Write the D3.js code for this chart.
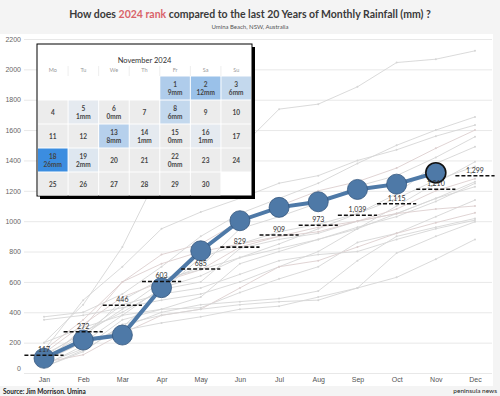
<!DOCTYPE html>
<html>
<head>
<meta charset="utf-8">
<script src="https://cdn.jsdelivr.net/npm/d3@7"></script>
<style>
  body { margin: 0; background: #f4f4f4; }
  svg { display: block; font-family: "Lato", "Open Sans", sans-serif; }
</style>
</head>
<body>
<div id="wrapper"></div>
<script>
// months and tick labels
const months = ["Jan", "Feb", "Mar", "Apr", "May", "Jun", "Jul", "Aug", "Sep", "Oct", "Nov", "Dec"];
const yTickValues = [0, 200, 400, 600, 800, 1000, 1200, 1400, 1600, 1800, 2000, 2200];

// cumulative rainfall 2024 (mm), Jan..Nov
const rain2024 = [97, 217, 250, 562, 805, 1003, 1091, 1128, 1209, 1244, 1319];
// average cumulative rainfall over the last 20 years
const avgRain = [117, 272, 446, 603, 685, 829, 909, 973, 1039, 1115, 1210, 1299];

// previous years, cumulative
const pastYears = [
    [200, 450, 830, 1350, 1420, 1480, 1738, 1771, 1885, 2045, 2067, 2122],
    [370, 400, 520, 700, 900, 1050, 1150, 1250, 1380, 1500, 1600, 1687],
    [150, 480, 700, 950, 1060, 1150, 1250, 1300, 1400, 1470, 1560, 1633],
    [60, 300, 600, 780, 850, 1000, 1100, 1200, 1260, 1350, 1480, 1600],
    [100, 250, 420, 600, 700, 950, 1030, 1120, 1230, 1300, 1420, 1556],
    [90, 200, 380, 560, 640, 760, 850, 950, 1050, 1180, 1380, 1490],
    [350, 380, 430, 480, 520, 600, 700, 800, 950, 1100, 1250, 1391],
    [40, 150, 300, 540, 760, 850, 930, 980, 1050, 1150, 1270, 1360],
    [130, 320, 500, 600, 680, 830, 900, 960, 1000, 1080, 1200, 1280],
    [80, 230, 480, 620, 680, 760, 820, 880, 950, 1050, 1150, 1260],
    [60, 160, 350, 420, 500, 720, 800, 880, 960, 1030, 1130, 1249],
    [110, 270, 400, 550, 600, 820, 880, 920, 1000, 1050, 1150, 1227],
    [200, 300, 380, 420, 430, 530, 620, 700, 860, 920, 1030, 1139],
    [70, 120, 260, 380, 420, 560, 700, 740, 830, 920, 990, 1055],
    [50, 180, 300, 400, 450, 470, 490, 540, 740, 900, 960, 1018],
    [120, 260, 450, 520, 560, 650, 740, 780, 800, 880, 950, 1007],
    [40, 140, 320, 380, 420, 450, 470, 480, 560, 790, 900, 996],
    [80, 200, 280, 330, 370, 420, 440, 500, 560, 630, 750, 880],
    [150, 350, 600, 720, 800, 850, 900, 930, 1000, 1050, 1080, 1100]
];

// November 2024 daily rain (mm), null = no reading
const calDays = d3.range(1, 31);
const calRain = [9, 12, 6, null, 1, 0, null, 6, null, null,
                 null, null, 8, 1, 0, 1, null, 26, 2, null,
                 null, 0, null, null, null, null, null, null, null, null];
const weekDays = ["Mo", "Tu", "We", "Th", "Fr", "Sa", "Su"];

var dimension = { width: 500, height: 396 };

const svg = d3.select("#wrapper").append("svg")
    .attr("width", dimension.width)
    .attr("height", dimension.height);

// backgrounds
svg.append("rect").attr("width", 500).attr("height", 396).attr("fill", "#f4f4f4");
svg.append("rect").attr("x", 0).attr("y", 34).attr("width", 493).attr("height", 352).attr("fill", "#ffffff");

// title
const title = svg.append("text")
    .attr("x", 250).attr("y", 18)
    .attr("text-anchor", "middle")
    .attr("font-size", 10.5).attr("font-weight", 700)
    .attr("fill", "#3a3a3a");
title.append("tspan").text("How does ");
title.append("tspan").attr("fill", "#d9636a").text("2024 rank");
title.append("tspan").text(" compared to the last 20 Years of Monthly Rainfall (mm) ?");

svg.append("text")
    .attr("x", 250).attr("y", 29)
    .attr("text-anchor", "middle")
    .attr("font-size", 6).attr("fill", "#555")
    .text("Umina Beach, NSW, Australia");

const xScaler = d3.scalePoint().domain(months).range([44, 475]);
const yScaler = d3.scaleLinear().domain([0, 2200]).range([373, 39]);

// gridlines + y labels
const yAxis = d3.axisLeft(yScaler)
    .tickValues(yTickValues)
    .tickFormat(d3.format("d"))
    .tickSize(-(492 - 24))
    .tickPadding(3);

const yG = svg.append("g")
    .attr("transform", "translate(24,0)")
    .call(yAxis);
yG.select(".domain").remove();
yG.selectAll(".tick line").attr("stroke", "#e8e8e8");
yG.selectAll(".tick text")
    .attr("font-size", 7).attr("fill", "#666")
    .attr("dy", d => d === 0 ? "-0.3em" : "0.32em");

// month labels
const xAxis = d3.axisBottom(xScaler).tickSize(0).tickPadding(0);
const xG = svg.append("g")
    .attr("transform", "translate(0,377)")
    .call(xAxis);
xG.select(".domain").remove();
xG.selectAll(".tick text").attr("font-size", 7).attr("fill", "#555");

// previous years
const lineGenerator = d3.line()
    .x((d, i) => xScaler(months[i]))
    .y(d => yScaler(d));

const greyCols = ["#d6d6d6", "#dccfcf"];
const past = svg.append("g");
pastYears.forEach((yr, k) => {
    const col = greyCols[k % 5 === 3 ? 1 : 0];
    past.append("path")
        .attr("d", lineGenerator(yr))
        .attr("fill", "none")
        .attr("stroke", col)
        .attr("stroke-width", 0.9);
    past.selectAll(null).data(yr).join("circle")
        .attr("cx", (d, i) => xScaler(months[i]))
        .attr("cy", d => yScaler(d))
        .attr("r", 1)
        .attr("fill", col);
});

// 2024 line and dots
svg.append("path")
    .attr("d", lineGenerator(rain2024))
    .attr("fill", "none")
    .attr("stroke", "#4e79a7")
    .attr("stroke-width", 4);

svg.append("g").selectAll("circle").data(rain2024).join("circle")
    .attr("cx", (d, i) => xScaler(months[i]))
    .attr("cy", d => yScaler(d))
    .attr("r", 10)
    .attr("fill", "#4e79a7")
    .attr("stroke", (d, i) => i === rain2024.length - 1 ? "#111" : "#35577d")
    .attr("stroke-width", (d, i) => i === rain2024.length - 1 ? 1.6 : 0.8);

// average dashes
const half = xScaler.step() / 2;
svg.append("g").selectAll("line").data(avgRain).join("line")
    .attr("x1", (d, i) => xScaler(months[i]) - half)
    .attr("x2", (d, i) => xScaler(months[i]) + half)
    .attr("y1", d => yScaler(d))
    .attr("y2", d => yScaler(d))
    .attr("stroke", "#111")
    .attr("stroke-width", 1.6)
    .attr("stroke-dasharray", "4,2");

svg.append("g").selectAll("text").data(avgRain).join("text")
    .attr("x", (d, i) => xScaler(months[i]))
    .attr("y", d => yScaler(d) - 3)
    .attr("text-anchor", "middle")
    .attr("font-size", 7)
    .attr("fill", "#333")
    .text(d => d3.format(",")(d));

// calendar panel
const cal = { x: 37, y: 44, w: 215, h: 152 };
svg.append("rect")
    .attr("x", cal.x + 3).attr("y", cal.y + 3)
    .attr("width", cal.w).attr("height", cal.h)
    .attr("fill", "#000");
svg.append("rect")
    .attr("x", cal.x).attr("y", cal.y)
    .attr("width", cal.w).attr("height", cal.h)
    .attr("fill", "#fff")
    .attr("stroke", "#000")
    .attr("stroke-width", 1);

svg.append("text")
    .attr("x", cal.x + cal.w / 2).attr("y", 63)
    .attr("text-anchor", "middle")
    .attr("font-size", 7.5).attr("fill", "#333")
    .text("November 2024");

const calX = d3.scaleBand().domain(d3.range(7)).range([37.5, 251.5]);
const calY = d3.scaleBand().domain(d3.range(5)).range([76, 196]);

svg.append("g").selectAll("text").data(weekDays).join("text")
    .attr("x", (d, i) => calX(i) + calX.bandwidth() / 2)
    .attr("y", 72)
    .attr("text-anchor", "middle")
    .attr("font-size", 5.5).attr("fill", "#999")
    .text(d => d);

// column separators in header
svg.append("g").selectAll("line").data(d3.range(1, 7)).join("line")
    .attr("x1", d => calX(d)).attr("x2", d => calX(d))
    .attr("y1", 66).attr("y2", 76)
    .attr("stroke", "#eee");

const rainCol = d3.scaleLinear().domain([0, 26]).range(["#eceef1", "#3b8de0"]);
const firstOffset = 4; // Nov 1 2024 is a Friday

const cells = svg.append("g").selectAll("g").data(calDays).join("g")
    .attr("transform", (d, i) => {
        const p = i + firstOffset;
        return `translate(${calX(p % 7)},${calY(Math.floor(p / 7))})`;
    });

cells.append("rect")
    .attr("x", 0.5).attr("y", 0.5)
    .attr("width", calX.bandwidth() - 1)
    .attr("height", calY.bandwidth() - 1)
    .attr("fill", (d, i) => calRain[i] == null || calRain[i] === 0 ? "#ececec" : rainCol(calRain[i]));

cells.append("text")
    .attr("x", calX.bandwidth() / 2)
    .attr("y", (d, i) => calRain[i] == null ? 14.5 : 10.5)
    .attr("text-anchor", "middle")
    .attr("font-size", 6.5).attr("font-weight", 700)
    .attr("fill", "#444")
    .text(d => d);

cells.filter((d, i) => calRain[i] != null).append("text")
    .attr("x", calX.bandwidth() / 2)
    .attr("y", 19)
    .attr("text-anchor", "middle")
    .attr("font-size", 6.5).attr("font-weight", 700)
    .attr("fill", "#444")
    .text(d => calRain[d - 1] + "mm");

// footer
svg.append("text")
    .attr("x", 3).attr("y", 394)
    .attr("font-size", 6.5).attr("font-weight", 700).attr("fill", "#222")
    .text("Source: Jim Morrison. Umina");
svg.append("text")
    .attr("x", 497).attr("y", 393)
    .attr("text-anchor", "end")
    .attr("font-size", 6.5).attr("fill", "#222")
    .text("peninsula news");
</script>
</body>
</html>
